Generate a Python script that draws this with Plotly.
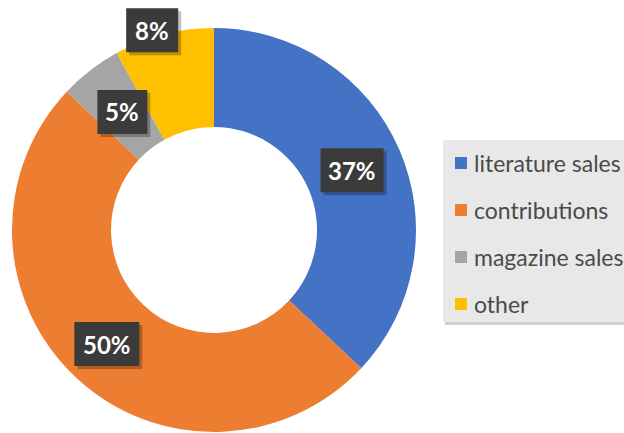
import math
import plotly.graph_objects as go

categories = ["literature sales", "contributions", "magazine sales", "other"]
values = [37, 50, 5, 8]
pct_labels = ["37%", "50%", "5%", "8%"]
colors = ["#4472C4", "#ED7D31", "#A5A5A5", "#FFC000"]

W, H = 624, 433
cx, cy, R = 214, 230, 202  # pie centre / radius in px
label_r = [0.745, 0.775, 0.74, 1.035]  # radial placement of labels (fraction of R)
label_dang = [0, 0, 0, -2.8]  # angular nudge of labels (degrees)
box_w = [63, 65, 50, 52]
box_h = 44

fig = go.Figure(go.Pie(
    labels=categories, values=values, sort=False, direction="clockwise",
    rotation=0, hole=0.51, textinfo="none", hoverinfo="label+percent",
    marker=dict(colors=colors, line=dict(width=0)),
    domain=dict(x=[(cx - R) / W, (cx + R) / W], y=[1 - (cy + R) / H, 1 - (cy - R) / H]),
    showlegend=False,
))

annotations = []
shapes = []
total = sum(values)
cum = 0
for v, t, rf, da, bw in zip(values, pct_labels, label_r, label_dang, box_w):
    mid = (cum + v / 2) / total * 2 * math.pi + math.radians(da)
    cum += v
    px = cx + rf * R * math.sin(mid)
    py = cy - rf * R * math.cos(mid)
    # shadow
    shapes.append(dict(type="rect", xref="paper", yref="paper",
                       x0=(px - bw / 2 + 3) / W, x1=(px + bw / 2 + 3) / W,
                       y0=1 - (py + box_h / 2 + 3) / H, y1=1 - (py - box_h / 2 + 3) / H,
                       fillcolor="rgba(0,0,0,0.25)", line=dict(width=0)))
    shapes.append(dict(type="rect", xref="paper", yref="paper",
                       x0=(px - bw / 2) / W, x1=(px + bw / 2) / W,
                       y0=1 - (py + box_h / 2) / H, y1=1 - (py - box_h / 2) / H,
                       fillcolor="#3b3b3b", line=dict(width=0)))
    annotations.append(dict(x=px / W, y=1 - py / H, xref="paper", yref="paper",
                            xanchor="center", yanchor="middle",
                            text="<b>%s</b>" % t, showarrow=False,
                            font=dict(family="Lato", size=24, color="white")))

# legend (drawn manually)
lx0, ly0, lx1, ly1 = 443, 140, 640, 322
shapes.append(dict(type="rect", xref="paper", yref="paper", x0=(lx0 + 2) / W, x1=(lx1 + 2) / W,
                   y0=1 - (ly1 + 3) / H, y1=1 - (ly0 + 3) / H, fillcolor="#d0d0d0", line=dict(width=0), layer="below"))
shapes.append(dict(type="rect", xref="paper", yref="paper", x0=lx0 / W, x1=lx1 / W,
                   y0=1 - ly1 / H, y1=1 - ly0 / H, fillcolor="#e8e8e8", line=dict(width=0), layer="below"))
row0, step = 163, 47
for i, (c, col) in enumerate(zip(categories, colors)):
    yc = row0 + i * step
    shapes.append(dict(type="rect", xref="paper", yref="paper", x0=455 / W, x1=467 / W,
                       y0=1 - (yc + 6) / H, y1=1 - (yc - 6) / H, fillcolor=col, line=dict(width=0)))
    annotations.append(dict(x=472 / W, y=1 - yc / H, xref="paper", yref="paper", text=c,
                            xanchor="left", yanchor="middle", showarrow=False,
                            font=dict(family="Lato", size=23, color="#4a4a4a")))

fig.update_layout(width=W, height=H, margin=dict(l=0, r=0, t=0, b=0),
                  paper_bgcolor="white", plot_bgcolor="white",
                  annotations=annotations, shapes=shapes)
fig.write_html("out.html", config={"displayModeBar": False},
               post_script="document.body.style.margin='0';")
